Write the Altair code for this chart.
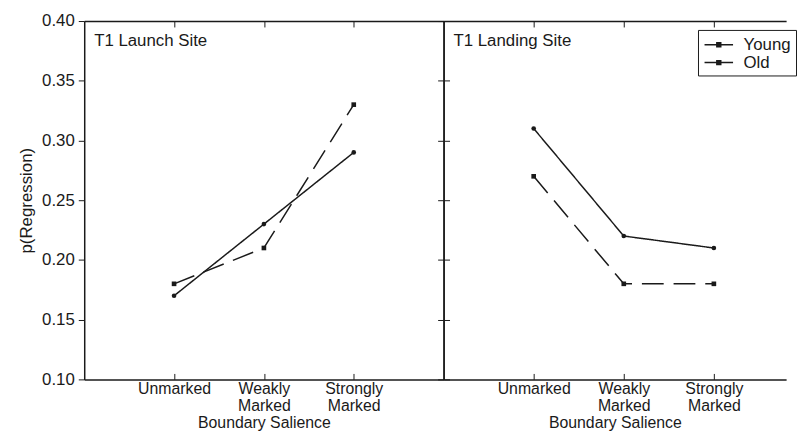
import altair as alt
import pandas as pd

# ---- data ----
categories = ["Unmarked", "Weakly Marked", "Strongly Marked"]
groups = ["Young", "Old"]
launch_young = [0.18, 0.21, 0.33]
launch_old = [0.17, 0.23, 0.29]
landing_young = [0.27, 0.18, 0.18]
landing_old = [0.31, 0.22, 0.21]
panel_titles = ["T1 Launch Site", "T1 Landing Site"]
y_ticks = [0.10, 0.15, 0.20, 0.25, 0.30, 0.35, 0.40]
x_title = "Boundary Salience"
y_title = "p(Regression)"

W1, W2, H = 363, 346, 362
FONT = "Liberation Sans"
INK = "#1a1a1a"


def make_df(young, old):
    rows = []
    for c, v in zip(categories, young):
        rows.append({"cond": c, "group": "Young", "marker": "Young", "p": v})
    for c, v in zip(categories, old):
        rows.append({"cond": c, "group": "Old", "marker": "Old", "p": v})
    return pd.DataFrame(rows)


def xs(first):
    if first:
        return alt.Scale(type="point", domain=categories, padding=1)
    # same ~91px step as the left panel, first category ~91px from the left edge
    return alt.Scale(type="point", domain=categories, padding=0.901, align=0.555)


def ys():
    return alt.Scale(domain=[0.10, 0.40], nice=False, zero=False)


def panel(df, title, first, width):
    base = alt.Chart(df)

    # layer 1: lines, main bottom axis + left axis
    x_main = alt.X(
        "cond:N", sort=categories, scale=xs(first),
        axis=alt.Axis(orient="bottom", title=x_title, ticks=False, tickSize=0,
                      labelAngle=0, labelExpr="split(datum.label, ' ')",
                      labelFontSize=16, titleFontSize=16, labelFont=FONT, titleFont=FONT,
                      titleFontWeight="normal", labelColor=INK, titleColor=INK,
                      labelPadding=1, titlePadding=2, labelLineHeight=17,
                      domainColor=INK, domainWidth=1.5, grid=False),
    )
    if first:
        y_axis = alt.Axis(orient="left", values=y_ticks, format=".2f", title=y_title,
                          tickSize=6, tickColor=INK, tickWidth=1,
                          labelFontSize=17, titleFontSize=17, labelFont=FONT, titleFont=FONT,
                          titleFontWeight="normal", labelColor=INK, titleColor=INK,
                          labelPadding=4, titlePadding=6,
                          domainColor=INK, domainWidth=1.5, grid=False)
    else:
        y_axis = alt.Axis(orient="left", values=y_ticks, labels=False, title=None,
                          tickSize=6, tickColor=INK, tickWidth=1,
                          domainColor=INK, domainWidth=1.5, grid=False)
    lines = base.mark_line(color=INK, strokeWidth=1.5).encode(
        x=x_main,
        y=alt.Y("p:Q", scale=ys(), axis=y_axis),
        strokeDash=alt.StrokeDash("marker:N", sort=groups,
                                  scale=alt.Scale(range=[[22, 10], [1, 0]]), legend=None),
        detail="marker:N",
    )

    # layer 2: markers, inward ticks at bottom + right side axis
    if first:
        y_right = alt.Axis(orient="right", values=y_ticks, labels=False, title=None,
                           tickSize=6, tickColor=INK, tickWidth=1,
                           domainColor=INK, domainWidth=1.5, grid=False)
    else:
        y_right = alt.Axis(orient="right", values=y_ticks, labels=False, title=None,
                           ticks=False, domain=False, grid=False)
    if first:
        legend = None
    else:
        legend = alt.Legend(orient="none", legendX=257, legendY=9, title=None,
                            strokeColor=INK, fillColor="white", padding=5, cornerRadius=0,
                            symbolType="M-1.6,0H1.6M-0.22,-0.22H0.22V0.22H-0.22Z",
                            symbolSize=324, symbolOffset=6,
                            symbolStrokeWidth=1.5, symbolStrokeColor=INK,
                            symbolFillColor=INK, symbolOpacity=1,
                            labelFontSize=17, labelFont=FONT, labelColor=INK,
                            labelOffset=15, rowPadding=0)
    points = base.mark_point(filled=True, size=22, opacity=1).encode(
        x=alt.X("cond:N", sort=categories, scale=xs(first),
                axis=alt.Axis(orient="top", offset=-H, labels=False, domain=False, title=None,
                              tickSize=6, tickColor=INK, tickWidth=1, grid=False)),
        y=alt.Y("p:Q", scale=ys(), axis=y_right),
        shape=alt.Shape("marker:N", sort=groups,
                        scale=alt.Scale(range=["square", "circle"]), legend=None),
        color=alt.Color("group:N", sort=groups,
                        scale=alt.Scale(domain=groups, range=[INK, INK]), legend=legend),
    )

    # layer 3: invisible, gives top border with inward ticks
    frame = base.mark_point(opacity=0).encode(
        x=alt.X("cond:N", sort=categories, scale=xs(first),
                axis=alt.Axis(orient="bottom", offset=-H, labels=False, title=None,
                              tickSize=6, tickColor=INK, tickWidth=1,
                              domainColor=INK, domainWidth=1.5, grid=False)),
        y=alt.Y("p:Q", scale=ys(), axis=None),
    )

    label = alt.Chart(pd.DataFrame({"t": [title]})).mark_text(
        align="left", baseline="top", fontSize=17, font=FONT, color=INK
    ).encode(text="t:N", x=alt.value(10), y=alt.value(12))

    return alt.layer(lines, points, frame, label).resolve_axis(
        x="independent", y="independent"
    ).properties(width=width, height=H)


left = panel(make_df(launch_young, launch_old), panel_titles[0], True, W1)
right = panel(make_df(landing_young, landing_old), panel_titles[1], False, W2)

chart = alt.hconcat(left, right, spacing=0, bounds="flush").resolve_scale(
    x="independent", y="independent", color="independent",
    shape="independent", strokeDash="independent"
).resolve_legend(color="independent").configure_view(stroke=None).properties(
    background="white",
    padding={"left": 9, "top": 2, "right": 0, "bottom": 0},
)

chart.save("out.html", embed_options={"renderer": "svg", "actions": False})
